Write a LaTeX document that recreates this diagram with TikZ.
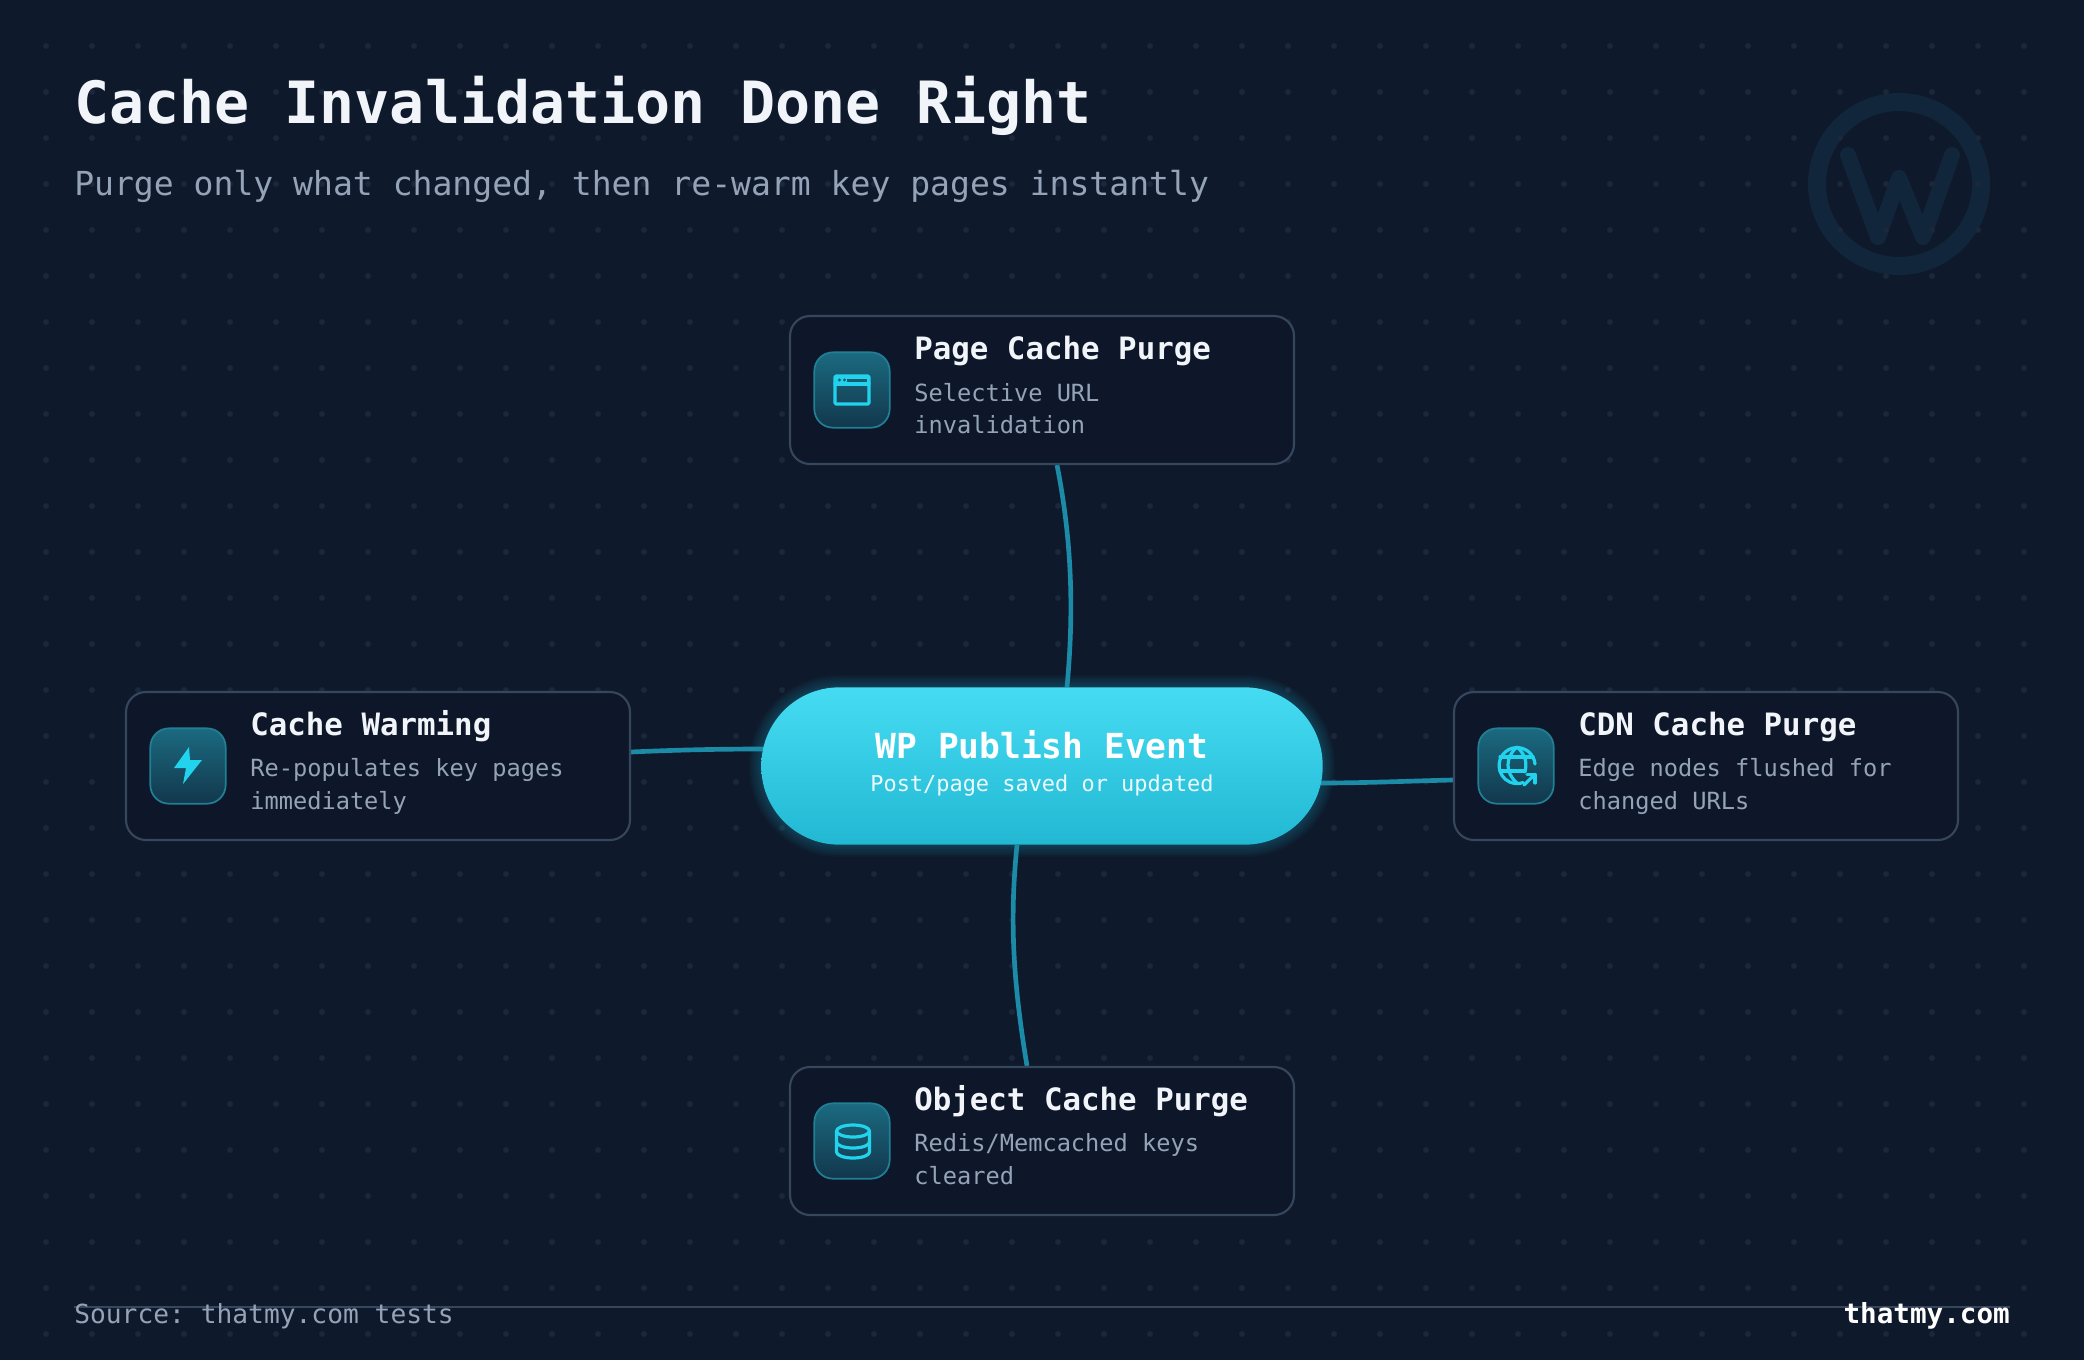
\documentclass[tikz,border=0pt]{standalone}
\usepackage{fontspec}
\setmonofont{DejaVu Sans Mono}
\usetikzlibrary{calc}
\definecolor{bgc}{HTML}{0F192C}
\definecolor{dotc}{HTML}{1B273A}
\definecolor{cardc}{HTML}{0D1729}
\definecolor{edgec}{HTML}{36465C}
\definecolor{linkc}{HTML}{1B8BA7}
\definecolor{iconc}{HTML}{22D3EE}
\definecolor{itop}{HTML}{1B6A80}
\definecolor{ibot}{HTML}{12374C}
\definecolor{iedge}{HTML}{217F95}
\definecolor{mutec}{HTML}{94A3B8}
\definecolor{whitec}{HTML}{F1F5F9}
\definecolor{markc}{HTML}{11263B}
\definecolor{pilltop}{HTML}{45DCF3}
\definecolor{pillbot}{HTML}{22B8D3}
\pgfdeclarelayer{back}\pgfdeclarelayer{links}
\pgfsetlayers{back,links,main}
\newcommand{\fs}[1]{\ttfamily\fontsize{#1}{#1}\selectfont}
\tikzset{
 x=0.75pt,y=-0.75pt,
 cardbox/.style={draw=edgec,line width=1.6pt,fill=cardc,rounded corners=15pt,minimum width=378pt,minimum height=111pt,inner sep=0pt},
 iconbox/.style={draw=iedge,line width=1.3pt,top color=itop,bottom color=ibot,rounded corners=14pt,minimum width=56.5pt,minimum height=56.5pt,inner sep=0pt},
 pillbox/.style={top color=pilltop,bottom color=pillbot,rounded corners=58.5pt,minimum width=421pt,minimum height=118pt,inner sep=0pt},
 cardtitle/.style={anchor=base west,inner sep=0pt,text=whitec,font=\fs{23.1}\bfseries},
 carddesc/.style={anchor=base west,inner sep=0pt,text=mutec,font=\fs{17.75}},
 linkline/.style={draw=linkc,line width=3.5pt},
 iconline/.style={draw=iconc,line width=2.4pt,line cap=round,line join=round},
}
\begin{document}
\begin{tikzpicture}
\useasboundingbox (0,0) rectangle (2084,1360);
\begin{pgfonlayer}{back}
\fill[bgc] (0,0) rectangle (2084,1360);
% watermark
\draw[markc,line width=13.5pt] (1899,184) circle[radius=82];
\draw[markc,line width=12pt,line cap=round,line join=round] (1848,155) -- (1878,237) -- (1899,178) -- (1923,237) -- (1952,155);
% dot grid
\foreach \i in {1,...,44}{\foreach \j in {1,...,29}{
  \fill[dotc] (46*\i,46*\j) circle[radius=3];
}}
\end{pgfonlayer}

% nodes
\node[cardbox] (page) at (1042,390) {};
\node[cardbox] (warm) at (378,766) {};
\node[cardbox] (cdn) at (1706,766) {};
\node[cardbox] (obj) at (1042,1141) {};
\node[pillbox] (pill) at (1042,766) {};

\begin{pgfonlayer}{links}
\foreach \w in {4,8,...,24}{
  \draw[iconc,opacity=.035,line width=\w*0.75pt,rounded corners=58.5pt] (pill.north west) rectangle (pill.south east);
}
\draw[linkline] ($(page.south)+(15,0)$) .. controls ($(page.south)+(30,76)$) and ($(pill.north)+(32,-76)$) .. ($(pill.north)+(25,0)$);
\draw[linkline] ($(pill.south)+(-25,0)$) .. controls ($(pill.south)+(-32,70)$) and ($(obj.north)+(-30,-90)$) .. ($(obj.north)+(-15,0)$);
\draw[linkline] ($(warm.east)+(0,-14)$) .. controls ($(warm.east)+(44,-16)$) and ($(pill.west)+(-44,-17)$) .. ($(pill.west)+(4,-17)$);
\draw[linkline] ($(pill.east)+(-4,17)$) .. controls ($(pill.east)+(44,17)$) and ($(cdn.west)+(-44,15)$) .. ($(cdn.west)+(0,14)$);
\end{pgfonlayer}

% headings
\node[anchor=base west,inner sep=0pt,text=whitec,font=\fs{43.7}\bfseries] (title) at (74,123) {Cache Invalidation Done Right};
\node[anchor=base west,inner sep=0pt,text=mutec,font=\fs{24.8}] (subtitle) at (74,195) {Purge only what changed, then re-warm key pages instantly};

% icon boxes
\node[iconbox] (ipage) at (852,390) {};
\node[iconbox] (iwarm) at (188,766) {};
\node[iconbox] (icdn) at (1516,766) {};
\node[iconbox] (iobj) at (852,1141) {};

% card text
\node[cardtitle] (t1) at (914,359) {Page Cache Purge};
\node[carddesc] (d1a) at (914,401) {Selective URL};
\node[carddesc] (d1b) at (914,433) {invalidation};
\node[cardtitle] (t2) at (250,735) {Cache Warming};
\node[carddesc] (d2a) at (250,776) {Re-populates key pages};
\node[carddesc] (d2b) at (250,809) {immediately};
\node[cardtitle] (t3) at (1578,735) {CDN Cache Purge};
\node[carddesc] (d3a) at (1578,776) {Edge nodes flushed for};
\node[carddesc] (d3b) at (1578,809) {changed URLs};
\node[cardtitle] (t4) at (914,1110) {Object Cache Purge};
\node[carddesc] (d4a) at (914,1151) {Redis/Memcached keys};
\node[carddesc] (d4b) at (914,1184) {cleared};

% pill text
\node[anchor=base,inner sep=0pt,text=white,font=\fs{25.9}\bfseries] (pt) at (1042,758) {WP Publish Event};
\node[anchor=base,inner sep=0pt,text=white!92!iconc,font=\fs{16.45}] (ps) at (1042,791) {Post/page saved or updated};

% window icon
\draw[iconline,rounded corners=0.8pt] (835,376) rectangle (869,404);
\draw[iconline] (835,384) -- (869,384);
\fill[iconc] (835,376) rectangle (869,384);
\fill[itop!70!ibot] (847,378.6) rectangle (866.5,381.6);
\fill[itop!70!ibot] (839.5,380) circle[radius=1.6] (844.5,380) circle[radius=1.6];
% bolt icon
\fill[iconc] (189,747) -- (174,768) -- (186,768) -- (183,784) -- (202,760) -- (190,760) -- cycle;
% globe icon
\begin{scope}[iconline]
\draw (1535,764) arc[start angle=-5,end angle=-290,radius=18];
\draw (1500,757) -- (1533,757);
\draw (1500,771) -- (1524,771);
\draw (1517,747) .. controls (1505,757) and (1505,773) .. (1517,783);
\draw (1517,747) .. controls (1526,755) and (1527,763) .. (1525,772);
\draw (1524,785) -- (1534,775);
\draw (1527,774.5) -- (1535,774.5) -- (1535,783);
\end{scope}
% database icon
\begin{scope}[iconline]
\draw (853,1131) ellipse[x radius=16.5,y radius=6];
\draw (836.5,1131) -- (836.5,1152) arc[start angle=180,end angle=0,x radius=16.5,y radius=6] -- (869.5,1131);
\draw (836.5,1142) arc[start angle=180,end angle=0,x radius=16.5,y radius=6];
\end{scope}

% footer
\begin{pgfonlayer}{links}
\coordinate (fl) at (74,1307);
\coordinate (fr) at (2010,1307);
\draw[edgec,line width=1.5pt] (fl) -- (fr);
\end{pgfonlayer}
\node[anchor=base west,inner sep=0pt,text=mutec,font=\fs{19.7}] (source) at (74,1323) {Source: thatmy.com tests};
\node[anchor=base east,inner sep=0pt,text=white,font=\fs{20.7}\bfseries] (brand) at (2010,1323) {thatmy.com};
\end{tikzpicture}
\end{document}
